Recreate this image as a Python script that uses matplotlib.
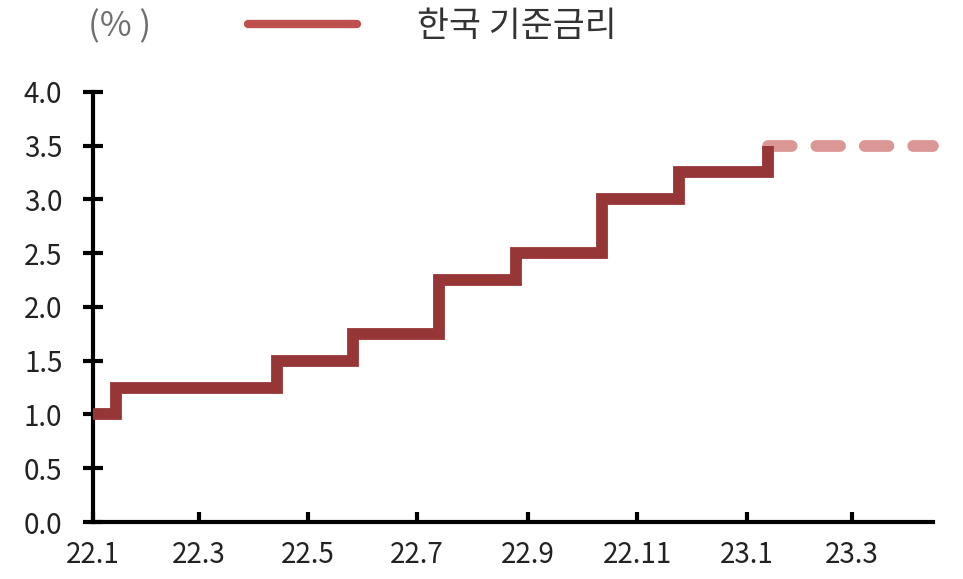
import datetime as dt

import matplotlib.pyplot as plt
import matplotlib.dates as mdates
from matplotlib.ticker import FuncFormatter

plt.rcParams['font.family'] = ['Noto Sans CJK KR', 'DejaVu Sans']

# 한국 기준금리 (%), 인상일 기준
change_dates = ["2022-01-01", "2022-01-14", "2022-04-14", "2022-05-26", "2022-07-13",
                "2022-08-25", "2022-10-12", "2022-11-24", "2023-01-13"]
rates = [1.00, 1.25, 1.50, 1.75, 2.25, 2.50, 3.00, 3.25, 3.50]
# 동결 전망 (점선)
hold_dates = ["2023-01-13", "2023-04-15"]
hold_rates = [3.50, 3.50]

tick_months = ["2022-01-01", "2022-03-01", "2022-05-01", "2022-07-01", "2022-09-01",
               "2022-11-01", "2023-01-01", "2023-03-01"]
y_ticks = [0.0, 0.5, 1.0, 1.5, 2.0, 2.5, 3.0, 3.5, 4.0]


def to_date(s):
    return dt.datetime.strptime(s, "%Y-%m-%d")


x = [to_date(d) for d in change_dates]
xh = [to_date(d) for d in hold_dates]

fig = plt.figure(figsize=(9.63, 5.79), dpi=100)
ax = fig.add_axes([0.0966, 0.0984, 0.872, 0.743])

ax.step(x, rates, where="post", color="#973636", lw=8.5,
        solid_joinstyle="miter", solid_capstyle="butt", zorder=3)
ax.plot(xh, hold_rates, color="#DB9696", lw=8.5, dashes=(2.0, 2.1),
        dash_capstyle="round", clip_on=False, zorder=2)

ax.set_xlim(to_date("2022-01-01"), to_date("2023-04-15"))
ax.set_ylim(0, 4.0)

ax.set_xticks([to_date(d) for d in tick_months])
ax.xaxis.set_major_formatter(FuncFormatter(
    lambda v, p: f"{mdates.num2date(v).year % 100}.{mdates.num2date(v).month}"))
ax.set_yticks(y_ticks)
ax.yaxis.set_major_formatter(FuncFormatter(lambda v, p: f"{v:.1f}"))

for s in ["top", "right"]:
    ax.spines[s].set_visible(False)
for s in ["left", "bottom"]:
    ax.spines[s].set_linewidth(3)
    ax.spines[s].set_color("black")

ax.tick_params(axis="x", direction="in", length=7, width=3, pad=13,
               labelsize=20, labelcolor="#222222")
ax.tick_params(axis="y", direction="inout", length=14, width=3, pad=15,
               labelsize=20, labelcolor="#222222")

# 범례 / 단위
fig.text(0.091, 0.953, "(% )", fontsize=25, color="#707070", va="center", ha="left")
fig.add_artist(plt.Line2D([0.258, 0.371], [0.958, 0.958], color="#C0504D", lw=6,
                          solid_capstyle="round", transform=fig.transFigure))
fig.text(0.433, 0.955, "한국 기준금리", fontsize=25, color="#333333", va="center", ha="left")

fig.savefig("out.png", dpi=100)
